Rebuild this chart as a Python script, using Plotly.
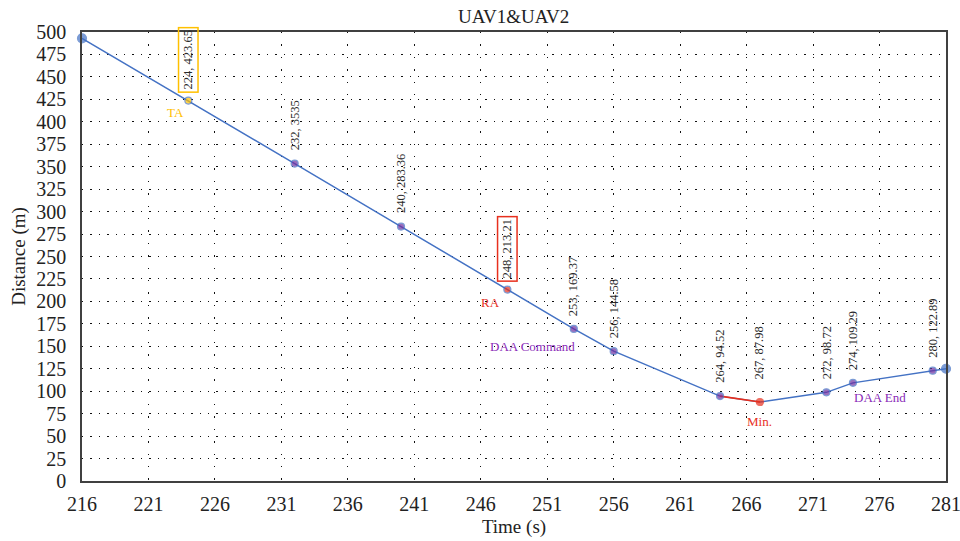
import plotly.graph_objects as go

# ---- data ----
time_s = [216, 224, 232, 240, 248, 253, 256, 264, 267, 272, 274, 280, 281]
distance_m = [493, 423.65, 353.5, 283.36, 213.21, 169.37, 144.58, 94.52, 87.98, 98.72, 109.29, 122.89, 125]
point_labels = ["", "224, 423.65", "232, 3535", "240, 283.36", "248, 213.21", "253, 169.37",
                "256, 144.58", "264, 94.52", "267, 87.98", "272, 98.72", "274, 109.29", "280, 122.89", ""]
point_roles = ["end", "ta", "mid", "mid", "ra", "mid", "mid", "mid", "min", "mid", "mid", "mid", "end"]

event_names = ["TA", "RA", "DAA Command", "Min.", "DAA End"]
event_time = [223.0, 246.7, 249.9, 267.0, 276.05]
event_dist = [410, 199, 150, 66, 93.5]
event_roles = ["ta", "ra", "cmd", "min", "cmd"]

title = "UAV1&UAV2"
x_title = "Time (s)"
y_title = "Distance (m)"

# ---- styles ----
BLUE = "#4472C4"
GOLD = "#FFC000"
RED = "#E8301E"
PURPLE = "#7030A0"
role_fill = {"end": BLUE, "ta": GOLD, "mid": PURPLE, "ra": RED, "min": RED, "cmd": PURPLE}
role_text = {"ta": GOLD, "ra": RED, "min": RED, "cmd": "#8A2BB8"}
FONT = "Liberation Serif"
TXT = "#222222"

fig = go.Figure()

fig.add_trace(go.Scatter(x=time_s, y=distance_m, mode="lines",
                         line=dict(color=BLUE, width=1.5), hoverinfo="skip", showlegend=False))
# red segment around minimum
i_min = point_roles.index("min")
fig.add_trace(go.Scatter(x=time_s[i_min - 1:i_min + 1], y=distance_m[i_min - 1:i_min + 1], mode="lines",
                         line=dict(color=RED, width=1.6), showlegend=False))

fills = [role_fill[r] for r in point_roles]
outlines = [RED if r == "min" else BLUE for r in point_roles]
sizes = [9 if r == "end" else 7 for r in point_roles]
fig.add_trace(go.Scatter(x=time_s, y=distance_m, mode="markers", cliponaxis=False,
                         marker=dict(color=fills, size=sizes, line=dict(color=outlines, width=1.2)),
                         showlegend=False))

for t, d, lab, role in zip(time_s, distance_m, point_labels, point_roles):
    if not lab:
        continue
    boxed = role in ("ta", "ra")
    fig.add_annotation(x=t, y=d, text=lab, showarrow=False, textangle=-90,
                       xanchor="center", yanchor="bottom",
                       yshift=21 if role == "min" else (8 if boxed else 11),
                       font=dict(family=FONT, size=12.5, color="#2a2a2a"),
                       bordercolor=role_fill[role] if boxed else "rgba(0,0,0,0)",
                       borderwidth=1.5 if boxed else 0, borderpad=2)

for name, t, d, role in zip(event_names, event_time, event_dist, event_roles):
    fig.add_annotation(x=t, y=d, text=name, showarrow=False, xanchor="center", yanchor="middle",
                       font=dict(family=FONT, size=13, color=role_text[role]))

axis_common = dict(showline=True, mirror=True, linecolor="#404040", linewidth=1.5,
                   showgrid=True, gridcolor="#111111", gridwidth=1.4,
                   zeroline=False, ticks="", automargin=False, ticklabeloverflow="allow",
                   tickfont=dict(family=FONT, size=20, color=TXT))

fig.update_xaxes(range=[216, 281], tick0=216, dtick=5, griddash="1.4px,11px", ticklabelstandoff=4,
                 title=dict(text=x_title, font=dict(family=FONT, size=19, color=TXT), standoff=6),
                 **axis_common)
fig.update_yaxes(range=[0, 500], tick0=0, dtick=25, griddash="1.4px,7px", ticklabelstandoff=10,
                 title=dict(text=y_title, font=dict(family=FONT, size=19, color=TXT), standoff=6),
                 **axis_common)

fig.update_layout(
    width=960, height=541,
    margin=dict(l=82, r=14, t=32, b=60, autoexpand=False),
    paper_bgcolor="white", plot_bgcolor="white",
    title=dict(text=title, x=0.535, xanchor="center", y=0.97, yanchor="middle",
               font=dict(family=FONT, size=19, color=TXT)),
)

fig.write_html("out.html")
